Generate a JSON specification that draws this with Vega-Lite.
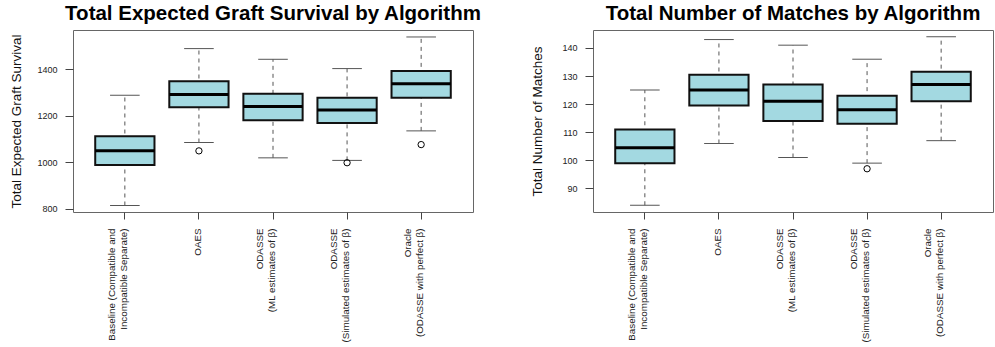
{
  "$schema": "https://vega.github.io/schema/vega-lite/v6.json",
  "padding": {"left": 8, "top": 3, "right": 0, "bottom": 0},
  "spacing": 47,
  "config": {
    "font": "Liberation Sans",
    "view": {"stroke": "#666", "strokeWidth": 1},
    "tick": {"opacity": 1},
    "title": {"fontSize": 20.5, "fontWeight": "bold", "color": "#000", "anchor": "middle", "frame": "group", "baseline": "alphabetic", "offset": 6},
    "axis": {"grid": false, "labelFont": "Liberation Sans", "titleFont": "Liberation Sans", "labelColor": "#222", "tickColor": "#444", "titleColor": "#111", "titleFontWeight": "normal", "labelOverlap": false}
  },
  "datasets": {
    "graft": [
      {"alg": "Baseline (Compatible and|Incompatible Separate)", "lower": 814, "q1": 988, "median": 1049, "q3": 1112, "upper": 1288},
      {"alg": "OAES", "lower": 1085, "q1": 1237, "median": 1291, "q3": 1348, "upper": 1489},
      {"alg": "ODASSE|(ML estimates of β)", "lower": 1019, "q1": 1181, "median": 1240, "q3": 1295, "upper": 1443},
      {"alg": "ODASSE|(Simulated estimates of β)", "lower": 1008, "q1": 1169, "median": 1225, "q3": 1277, "upper": 1403},
      {"alg": "Oracle|(ODASSE with perfect β)", "lower": 1135, "q1": 1277, "median": 1338, "q3": 1393, "upper": 1539}
    ],
    "graft_out": [
      {"alg": "OAES", "value": 1049},
      {"alg": "ODASSE|(Simulated estimates of β)", "value": 998},
      {"alg": "Oracle|(ODASSE with perfect β)", "value": 1076}
    ],
    "matches": [
      {"alg": "Baseline (Compatible and|Incompatible Separate)", "lower": 84, "q1": 99, "median": 104.5, "q3": 111, "upper": 125},
      {"alg": "OAES", "lower": 106, "q1": 119.5, "median": 125, "q3": 130.5, "upper": 143},
      {"alg": "ODASSE|(ML estimates of β)", "lower": 101, "q1": 114, "median": 121, "q3": 127, "upper": 141},
      {"alg": "ODASSE|(Simulated estimates of β)", "lower": 99, "q1": 113, "median": 118, "q3": 123, "upper": 136},
      {"alg": "Oracle|(ODASSE with perfect β)", "lower": 107, "q1": 121, "median": 127, "q3": 131.5, "upper": 144}
    ],
    "matches_out": [
      {"alg": "ODASSE|(Simulated estimates of β)", "value": 97}
    ]
  },
  "hconcat": [
    {
      "width": 400,
      "height": 182,
      "title": "Total Expected Graft Survival by Algorithm",
      "encoding": {
        "x": {
          "field": "alg", "type": "nominal", "sort": ["Baseline (Compatible and|Incompatible Separate)", "OAES", "ODASSE|(ML estimates of β)", "ODASSE|(Simulated estimates of β)", "Oracle|(ODASSE with perfect β)"],
          "scale": {"paddingInner": 0.2, "paddingOuter": 0.3},
          "axis": {"title": null, "domain": false, "tickSize": 7, "labelPadding": 9, "labelAngle": 270, "labelAlign": "right", "labelBaseline": "bottom", "labelOffset": -7.8, "labelFontSize": 9.8, "labelLineHeight": 11.5, "labelExpr": "indexof(datum.label, '|') < 0 ? ['', datum.label] : split(datum.label, '|')"}
        }
      },
      "layer": [
        {
          "data": {"name": "graft"},
          "mark": {"type": "rule", "color": "#555", "strokeDash": [4, 4], "strokeWidth": 1},
          "encoding": {
            "y": {"field": "lower", "type": "quantitative", "scale": {"domain": [786, 1569], "nice": false, "zero": false},
              "axis": {"title": "Total Expected Graft Survival", "values": [800, 1000, 1200, 1400], "format": "d", "domain": false, "tickSize": 8, "labelPadding": 8, "labelFontSize": 9, "titleFontSize": 13.5, "titleX": -57, "titleBaseline": "middle"}},
            "y2": {"field": "upper"}
          }
        },
        {
          "data": {"name": "graft"},
          "mark": {"type": "tick", "color": "#555", "size": 29.6, "thickness": 1},
          "encoding": {"y": {"field": "lower", "type": "quantitative", "axis": {"title": "Total Expected Graft Survival", "values": [800, 1000, 1200, 1400], "format": "d", "domain": false, "tickSize": 8, "labelPadding": 8, "labelFontSize": 9, "titleFontSize": 13.5, "titleX": -57, "titleBaseline": "middle"}}}
        },
        {
          "data": {"name": "graft"},
          "mark": {"type": "tick", "color": "#555", "size": 29.6, "thickness": 1},
          "encoding": {"y": {"field": "upper", "type": "quantitative", "axis": {"title": "Total Expected Graft Survival", "values": [800, 1000, 1200, 1400], "format": "d", "domain": false, "tickSize": 8, "labelPadding": 8, "labelFontSize": 9, "titleFontSize": 13.5, "titleX": -57, "titleBaseline": "middle"}}}
        },
        {
          "data": {"name": "graft"},
          "mark": {"type": "bar", "fill": "#A3D9E1", "stroke": "#111", "strokeWidth": 2},
          "encoding": {"y": {"field": "q1", "type": "quantitative", "axis": {"title": "Total Expected Graft Survival", "values": [800, 1000, 1200, 1400], "format": "d", "domain": false, "tickSize": 8, "labelPadding": 8, "labelFontSize": 9, "titleFontSize": 13.5, "titleX": -57, "titleBaseline": "middle"}}, "y2": {"field": "q3"}}
        },
        {
          "data": {"name": "graft"},
          "mark": {"type": "tick", "color": "#000", "size": 59.3, "thickness": 3},
          "encoding": {"y": {"field": "median", "type": "quantitative", "axis": {"title": "Total Expected Graft Survival", "values": [800, 1000, 1200, 1400], "format": "d", "domain": false, "tickSize": 8, "labelPadding": 8, "labelFontSize": 9, "titleFontSize": 13.5, "titleX": -57, "titleBaseline": "middle"}}}
        },
        {
          "data": {"name": "graft_out"},
          "mark": {"type": "point", "shape": "circle", "filled": false, "stroke": "#000", "strokeWidth": 1, "size": 40, "opacity": 1},
          "encoding": {"y": {"field": "value", "type": "quantitative", "axis": {"title": "Total Expected Graft Survival", "values": [800, 1000, 1200, 1400], "format": "d", "domain": false, "tickSize": 8, "labelPadding": 8, "labelFontSize": 9, "titleFontSize": 13.5, "titleX": -57, "titleBaseline": "middle"}}}
        }
      ]
    },
    {
      "width": 400,
      "height": 182,
      "title": "Total Number of Matches by Algorithm",
      "encoding": {
        "x": {
          "field": "alg", "type": "nominal", "sort": ["Baseline (Compatible and|Incompatible Separate)", "OAES", "ODASSE|(ML estimates of β)", "ODASSE|(Simulated estimates of β)", "Oracle|(ODASSE with perfect β)"],
          "scale": {"paddingInner": 0.2, "paddingOuter": 0.3},
          "axis": {"title": null, "domain": false, "tickSize": 7, "labelPadding": 9, "labelAngle": 270, "labelAlign": "right", "labelBaseline": "bottom", "labelOffset": -7.8, "labelFontSize": 9.8, "labelLineHeight": 11.5, "labelExpr": "indexof(datum.label, '|') < 0 ? ['', datum.label] : split(datum.label, '|')"}
        }
      },
      "layer": [
        {
          "data": {"name": "matches"},
          "mark": {"type": "rule", "color": "#555", "strokeDash": [4, 4], "strokeWidth": 1},
          "encoding": {
            "y": {"field": "lower", "type": "quantitative", "scale": {"domain": [81.6, 146.4], "nice": false, "zero": false},
              "axis": {"title": "Total Number of Matches", "values": [90, 100, 110, 120, 130, 140], "format": "d", "domain": false, "tickSize": 8, "labelPadding": 8, "labelFontSize": 9, "titleFontSize": 13.5, "titleX": -56, "titleBaseline": "middle"}},
            "y2": {"field": "upper"}
          }
        },
        {
          "data": {"name": "matches"},
          "mark": {"type": "tick", "color": "#555", "size": 29.6, "thickness": 1},
          "encoding": {"y": {"field": "lower", "type": "quantitative", "axis": {"title": "Total Number of Matches", "values": [90, 100, 110, 120, 130, 140], "format": "d", "domain": false, "tickSize": 8, "labelPadding": 8, "labelFontSize": 9, "titleFontSize": 13.5, "titleX": -56, "titleBaseline": "middle"}}}
        },
        {
          "data": {"name": "matches"},
          "mark": {"type": "tick", "color": "#555", "size": 29.6, "thickness": 1},
          "encoding": {"y": {"field": "upper", "type": "quantitative", "axis": {"title": "Total Number of Matches", "values": [90, 100, 110, 120, 130, 140], "format": "d", "domain": false, "tickSize": 8, "labelPadding": 8, "labelFontSize": 9, "titleFontSize": 13.5, "titleX": -56, "titleBaseline": "middle"}}}
        },
        {
          "data": {"name": "matches"},
          "mark": {"type": "bar", "fill": "#A3D9E1", "stroke": "#111", "strokeWidth": 2},
          "encoding": {"y": {"field": "q1", "type": "quantitative", "axis": {"title": "Total Number of Matches", "values": [90, 100, 110, 120, 130, 140], "format": "d", "domain": false, "tickSize": 8, "labelPadding": 8, "labelFontSize": 9, "titleFontSize": 13.5, "titleX": -56, "titleBaseline": "middle"}}, "y2": {"field": "q3"}}
        },
        {
          "data": {"name": "matches"},
          "mark": {"type": "tick", "color": "#000", "size": 59.3, "thickness": 3},
          "encoding": {"y": {"field": "median", "type": "quantitative", "axis": {"title": "Total Number of Matches", "values": [90, 100, 110, 120, 130, 140], "format": "d", "domain": false, "tickSize": 8, "labelPadding": 8, "labelFontSize": 9, "titleFontSize": 13.5, "titleX": -56, "titleBaseline": "middle"}}}
        },
        {
          "data": {"name": "matches_out"},
          "mark": {"type": "point", "shape": "circle", "filled": false, "stroke": "#000", "strokeWidth": 1, "size": 40, "opacity": 1},
          "encoding": {"y": {"field": "value", "type": "quantitative", "axis": {"title": "Total Number of Matches", "values": [90, 100, 110, 120, 130, 140], "format": "d", "domain": false, "tickSize": 8, "labelPadding": 8, "labelFontSize": 9, "titleFontSize": 13.5, "titleX": -56, "titleBaseline": "middle"}}}
        }
      ]
    }
  ]
}
